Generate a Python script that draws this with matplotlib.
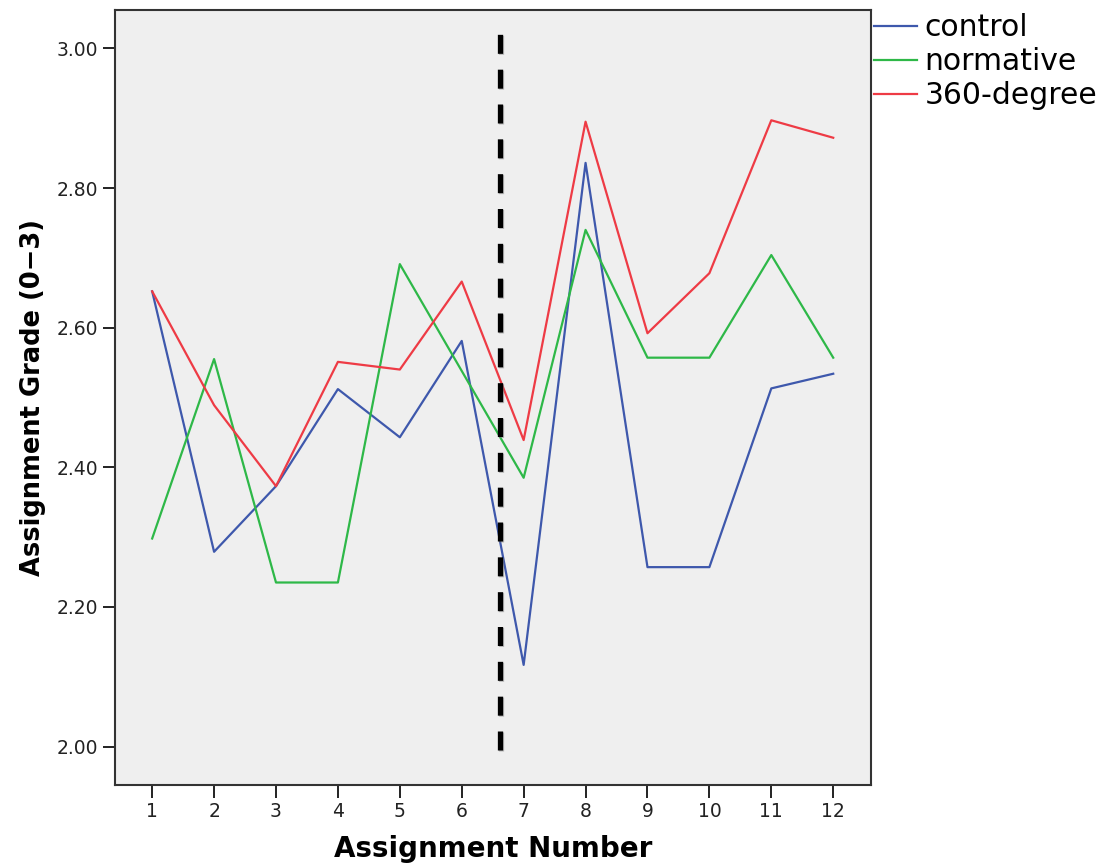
import matplotlib
matplotlib.use("Agg")
import matplotlib.pyplot as plt
import matplotlib.patheffects as pe

assignments = list(range(1, 13))
control = [2.652, 2.279, 2.373, 2.512, 2.443, 2.581, 2.117, 2.836, 2.257, 2.257, 2.513, 2.534]
normative = [2.298, 2.555, 2.235, 2.235, 2.691, 2.538, 2.385, 2.740, 2.557, 2.557, 2.704, 2.557]
degree360 = [2.652, 2.489, 2.373, 2.551, 2.540, 2.666, 2.439, 2.895, 2.592, 2.678, 2.897, 2.872]
series_names = ["control", "normative", "360-degree"]
yticks = [2.00, 2.20, 2.40, 2.60, 2.80, 3.00]
divider_x = 6.61

colors = ["#3e58ac", "#2eb848", "#ee3b45"]

fig = plt.figure(figsize=(11.07, 8.67), dpi=100)
ax = fig.add_axes([0.1039, 0.0946, 0.6829, 0.8939])
ax.set_facecolor("#efefef")

for vals, name, c in zip([control, normative, degree360], series_names, colors):
    ax.plot(assignments, vals, color=c, lw=1.6, label=name)

ax.plot([divider_x, divider_x], [1.995, 3.024], color="black", lw=3.8,
        dashes=(3.6, 3.0), solid_capstyle="butt", dash_capstyle="butt",
        path_effects=[pe.SimpleLineShadow(offset=(1, -1), shadow_color="gray", alpha=0.5),
                      pe.Normal()])

ax.set_xlim(0.4, 12.61)
ax.set_ylim(1.945, 3.055)
ax.set_xticks(assignments)
ax.set_yticks(yticks)
ax.set_yticklabels([f"{v:.2f}" for v in yticks])
ax.tick_params(axis="both", direction="out", length=9, width=1.4, labelsize=13.5,
               colors="#222222", pad=3)
for s in ax.spines.values():
    s.set_color("#333333")
    s.set_linewidth(1.5)

ax.set_xlabel("Assignment Number", fontsize=20, fontweight="bold", labelpad=10)
ax.set_ylabel("Assignment Grade (0\u22123)", fontsize=18.5, fontweight="bold", labelpad=8)

ax.legend(loc="upper left", bbox_to_anchor=(1.0, 1.0), frameon=False, fontsize=21.5,
          handlelength=1.45, handletextpad=0.25, labelspacing=0.17, borderaxespad=0.1,
          borderpad=0.0)

fig.savefig("out.png", dpi=100)
